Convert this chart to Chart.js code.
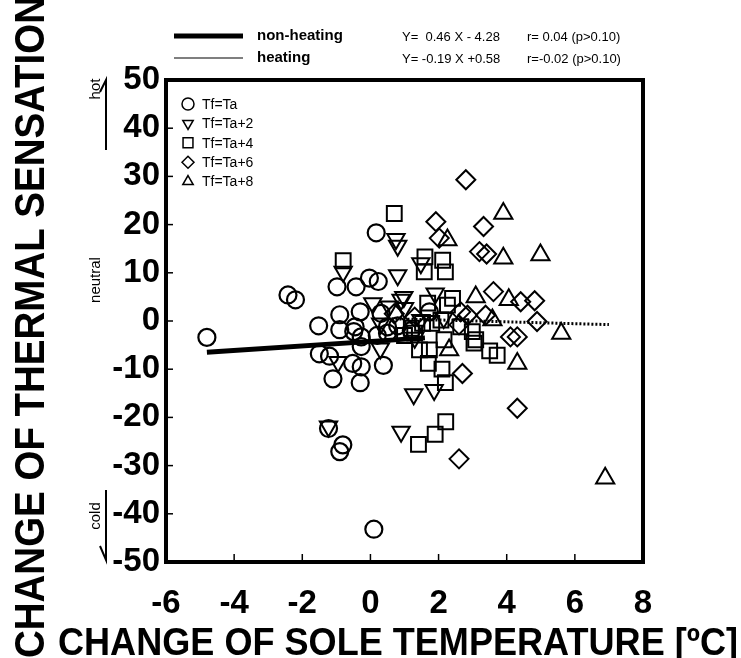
<!DOCTYPE html>
<html>
<head>
<meta charset="utf-8">
<script src="https://cdn.jsdelivr.net/npm/chart.js@4.4.1/dist/chart.umd.min.js"></script>
<style>
  html, body { margin: 0; padding: 0; background: #fff; }
  #wrap { width: 741px; height: 658px; }
</style>
</head>
<body>
<div id="wrap"><canvas id="sole" width="741" height="658"></canvas></div>
<script>
// data: [sole temperature change, thermal sensation change]
const tfTa = [
  [-4.8, -3.4], [-2.42, 5.4], [-2.2, 4.4], [-1.52, -1.0], [-1.5, -6.8], [-1.2, -7.3],
  [-1.23, -22.3], [-0.81, -25.7], [-0.9, -27.1], [-0.98, 7.1], [-0.9, 1.3], [-0.9, -1.8],
  [-1.1, -12.0], [-0.42, 7.1], [-0.3, 1.9], [-0.49, -2.2], [-0.03, 8.9], [0.23, 8.2],
  [0.17, 18.3], [-0.27, -5.3], [-0.52, -8.8], [-0.27, -9.5], [-0.3, -12.8], [0.38, -9.2],
  [0.1, -43.2], [-0.45, -1.2], [-0.27, -3.3], [0.31, 1.6], [0.5, -1.2], [0.2, -3.0],
  [0.8, -1.0], [1.73, 1.9], [0.5, -2.5], [1.2, -2.0]
];
const tfTa2 = [
  [0.75, 17.0], [0.8, 15.6], [-0.8, 10.2], [0.8, 9.5], [1.48, 12.0], [0.07, 3.7],
  [0.9, 4.4], [0.55, 3.0], [1.0, 2.7], [0.98, 5.0], [1.9, 5.7], [0.29, -5.7],
  [-0.95, -8.5], [1.27, -15.2], [1.87, -14.3], [0.9, -23.0], [-1.23, -21.9],
  [1.48, 0.2], [2.15, 0.6], [0.3, -0.5], [1.3, -3.5]
];
const tfTa4 = [
  [0.7, 22.3], [-0.8, 12.5], [1.6, 13.3], [2.12, 12.6], [1.58, 10.2], [2.2, 10.2],
  [2.41, 4.7], [1.68, 3.7], [2.26, 3.3], [1.53, -0.5], [1.8, -0.5], [2.07, 0.2],
  [2.99, -2.2], [2.65, -1.2], [2.16, -3.9], [3.09, -3.9], [3.04, -4.6], [3.5, -6.2],
  [3.72, -7.1], [1.44, -6.0], [1.73, -6.0], [1.7, -8.8], [2.1, -10.0], [2.2, -12.8],
  [2.21, -20.9], [1.9, -23.5], [1.41, -25.6], [1.2, -1.5], [1.0, -3.0], [1.3, -2.5]
];
const tfTa6 = [
  [2.8, 29.3], [1.92, 20.6], [3.32, 19.6], [2.02, 17.2], [3.2, 14.4], [3.41, 13.9],
  [3.61, 6.1], [4.41, 4.0], [4.82, 4.2], [2.65, 1.9], [2.85, 1.2], [3.38, 1.2],
  [4.89, -0.1], [4.11, -3.3], [4.31, -3.3], [2.6, -0.8], [2.7, -10.9], [4.31, -18.1],
  [2.6, -28.6], [0.7, 1.5], [1.3, 0.8]
];
const tfTa8 = [
  [3.9, 22.3], [2.26, 16.8], [3.9, 13.0], [4.99, 13.7], [3.09, 5.0], [4.06, 4.4],
  [3.58, 0.2], [5.6, -2.6], [2.31, -6.0], [4.31, -8.8], [6.89, -32.6]
];
// regression line end points
const nonHeatingLine = [[-4.8, -6.5], [1.6, -3.5]];
const heatingLine = [[0.5, 0.5], [7.0, -0.75]];

const groupLabels = ['Tf=Ta', 'Tf=Ta+2', 'Tf=Ta+4', 'Tf=Ta+6', 'Tf=Ta+8'];
const xTicks = [-6, -4, -2, 0, 2, 4, 6, 8];
const yTicks = [-50, -40, -30, -20, -10, 0, 10, 20, 30, 40, 50];

const FONT = "'Liberation Sans', Arial, Helvetica, sans-serif";

const toXY = (arr) => arr.map((p) => ({ x: p[0], y: p[1] }));

const markers = [
  { style: 'circle', radius: 8.5, rotation: 0, width: 2.2 },
  { style: 'triangle', radius: 10, rotation: 180, width: 2 },
  { style: 'rect', radius: 10.5, rotation: 0, width: 2 },
  { style: 'rectRot', radius: 9.5, rotation: 0, width: 2 },
  { style: 'triangle', radius: 10.5, rotation: 0, width: 2 },
];
const groups = [tfTa, tfTa2, tfTa4, tfTa6, tfTa8];

const pointSets = groups.map((g, i) => ({
  type: 'scatter',
  label: groupLabels[i],
  data: toXY(g),
  pointStyle: markers[i].style,
  pointRadius: markers[i].radius,
  rotation: markers[i].rotation,
  pointBorderWidth: markers[i].width,
  pointBorderColor: '#000',
  pointBackgroundColor: 'rgba(0,0,0,0)',
  showLine: false,
}));

// text squeezed to a given length, like the condensed lettering of the figure
function fitText(ctx, text, x, y, width, rot) {
  ctx.save();
  ctx.translate(x, y);
  ctx.rotate(rot);
  const w = ctx.measureText(text).width;
  ctx.scale(width / w, 1);
  ctx.fillText(text, -w / 2, 0);
  ctx.restore();
}

// frame, inward ticks, titles, legends and side notes
const decorations = {
  id: 'decorations',
  afterDraw(chart) {
    const { ctx, chartArea: a, scales } = chart;
    ctx.save();
    ctx.strokeStyle = '#000';
    ctx.fillStyle = '#000';

    // inward tick marks
    ctx.lineWidth = 1.5;
    xTicks.forEach((v) => {
      const px = scales.x.getPixelForValue(v);
      ctx.beginPath();
      ctx.moveTo(px, a.bottom);
      ctx.lineTo(px, a.bottom - 8);
      ctx.stroke();
    });
    yTicks.forEach((v) => {
      const py = scales.y.getPixelForValue(v);
      ctx.beginPath();
      ctx.moveTo(a.left, py);
      ctx.lineTo(a.left + 7, py);
      ctx.stroke();
    });

    // thick frame
    ctx.lineWidth = 4;
    ctx.strokeRect(a.left, a.top, a.right - a.left, a.bottom - a.top);

    // axis titles
    ctx.textBaseline = 'alphabetic';
    ctx.font = 'bold 39px ' + FONT;
    fitText(ctx, 'CHANGE OF SOLE TEMPERATURE [ºC]', 398, 655, 680, 0);
    ctx.font = 'bold 42px ' + FONT;
    fitText(ctx, 'CHANGE OF THERMAL SENSATION', 44, 327, 662, -Math.PI / 2);

    // group legend inside the frame
    ctx.font = '14px ' + FONT;
    ctx.textBaseline = 'middle';
    groupLabels.forEach((lab, i) => {
      const y = 104 + i * 19.4;
      const m = markers[i];
      ctx.save();
      ctx.lineWidth = 1.5;
      ctx.fillStyle = 'rgba(0,0,0,0)';
      Chart.helpers.drawPoint(ctx, {
        pointStyle: m.style,
        radius: m.style === 'rect' ? 7 : 6,
        rotation: m.rotation,
        borderWidth: 1.5,
      }, 188, y);
      ctx.restore();
      ctx.fillText(lab, 202, y + 1);
    });

    // regression legend above the frame
    ctx.lineWidth = 5;
    ctx.beginPath(); ctx.moveTo(174, 36); ctx.lineTo(243, 36); ctx.stroke();
    ctx.lineWidth = 1.2;
    ctx.beginPath(); ctx.moveTo(174, 58); ctx.lineTo(243, 58); ctx.stroke();
    ctx.font = 'bold 15px ' + FONT;
    ctx.fillText('non-heating', 257, 36);
    ctx.fillText('heating', 257, 58);
    ctx.font = '13px ' + FONT;
    ctx.fillText('Y=  0.46 X - 4.28', 402, 37);
    ctx.fillText('Y= -0.19 X +0.58', 402, 59);
    ctx.fillText('r= 0.04 (p>0.10)', 527, 37);
    ctx.fillText('r=-0.02 (p>0.10)', 527, 59);

    // hot / neutral / cold notes
    ctx.font = '15px ' + FONT;
    ctx.textAlign = 'center';
    [['hot', 89], ['neutral', 280], ['cold', 516]].forEach(([t, cy]) => {
      ctx.save();
      ctx.translate(96, cy);
      ctx.rotate(-Math.PI / 2);
      ctx.fillText(t, 0, 0);
      ctx.restore();
    });
    ctx.lineWidth = 2;
    ctx.beginPath();
    ctx.moveTo(106, 150); ctx.lineTo(106, 80); ctx.lineTo(100, 92);
    ctx.stroke();
    ctx.beginPath();
    ctx.moveTo(106, 490); ctx.lineTo(106, 560); ctx.lineTo(100, 546);
    ctx.stroke();
    ctx.restore();
  },
};

new Chart(document.getElementById('sole'), {
  type: 'scatter',
  data: {
    datasets: [
      {
        type: 'line',
        label: 'non-heating',
        data: toXY(nonHeatingLine),
        borderColor: '#000',
        borderWidth: 5,
        pointRadius: 0,
        fill: false,
      },
      {
        type: 'line',
        label: 'heating',
        data: toXY(heatingLine),
        borderColor: '#000',
        borderWidth: 3,
        borderDash: [2, 2],
        pointRadius: 0,
        fill: false,
      },
      ...pointSets,
    ],
  },
  options: {
    responsive: false,
    animation: false,
    devicePixelRatio: 1,
    layout: { padding: { top: 80, right: 98, left: 0, bottom: 0 } },
    plugins: { legend: { display: false }, tooltip: { enabled: false } },
    scales: {
      x: {
        type: 'linear',
        min: -6,
        max: 8,
        afterBuildTicks: (s) => { s.ticks = xTicks.map((v) => ({ value: v })); },
        afterFit: (s) => { s.height = 96; },
        grid: { display: false, drawTicks: false },
        border: { display: false },
        ticks: { color: '#000', padding: 22, font: { family: FONT, size: 33, weight: 'bold' } },
      },
      y: {
        type: 'linear',
        min: -50,
        max: 50,
        afterBuildTicks: (s) => { s.ticks = yTicks.map((v) => ({ value: v })); },
        afterFit: (s) => { s.width = 166; },
        grid: { display: false, drawTicks: false },
        border: { display: false },
        ticks: { color: '#000', padding: 6, font: { family: FONT, size: 33, weight: 'bold' } },
      },
    },
  },
  plugins: [decorations],
});
</script>
</body>
</html>
